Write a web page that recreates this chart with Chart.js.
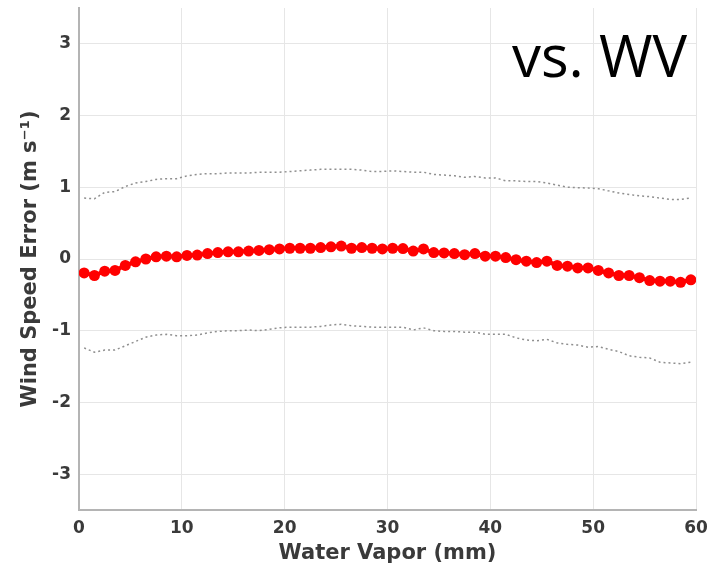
<!DOCTYPE html>
<html>
<head>
<meta charset="utf-8">
<script src="https://cdn.jsdelivr.net/npm/chart.js@4"></script>
<style>
    html, body { margin: 0; padding: 0; background: #fff; }
    #wrap { position: relative; width: 713px; height: 566px; }
    #label { position: absolute; left: 512px; top: 26px; font-family: 'Open Sans', sans-serif; font-size: 58px; color: #000; line-height: 1; }
</style>
</head>
<body>
<div id="wrap">
    <canvas id="wvChart" width="713" height="566"></canvas>
    <div id="label">vs. WV</div>
</div>
<script>
// water vapor bins (mm)
const waterVapor = [0.5, 1.5, 2.5, 3.5, 4.5, 5.5, 6.5, 7.5, 8.5, 9.5,
    10.5, 11.5, 12.5, 13.5, 14.5, 15.5, 16.5, 17.5, 18.5, 19.5,
    20.5, 21.5, 22.5, 23.5, 24.5, 25.5, 26.5, 27.5, 28.5, 29.5,
    30.5, 31.5, 32.5, 33.5, 34.5, 35.5, 36.5, 37.5, 38.5, 39.5,
    40.5, 41.5, 42.5, 43.5, 44.5, 45.5, 46.5, 47.5, 48.5, 49.5,
    50.5, 51.5, 52.5, 53.5, 54.5, 55.5, 56.5, 57.5, 58.5, 59.5]

// mean wind speed error
const meanError = [-0.195, -0.23, -0.17, -0.16, -0.09, -0.04, 0.0, 0.03, 0.04, 0.03,
    0.05, 0.055, 0.075, 0.09, 0.10, 0.10, 0.11, 0.12, 0.13, 0.14,
    0.15, 0.15, 0.15, 0.16, 0.17, 0.18, 0.15, 0.16, 0.15, 0.14,
    0.15, 0.145, 0.11, 0.14, 0.09, 0.085, 0.075, 0.06, 0.075, 0.04,
    0.04, 0.02, -0.01, -0.03, -0.05, -0.03, -0.09, -0.10, -0.125, -0.125,
    -0.16, -0.195, -0.23, -0.23, -0.26, -0.30, -0.31, -0.31, -0.325, -0.29]

// +/- std dev bounds
const upperBound = [0.85, 0.84, 0.93, 0.94, 1.01, 1.06, 1.08, 1.11, 1.12, 1.12,
    1.16, 1.18, 1.19, 1.19, 1.2, 1.2, 1.2, 1.21, 1.21, 1.21,
    1.22, 1.23, 1.24, 1.25, 1.25, 1.25, 1.25, 1.24, 1.22, 1.22,
    1.23, 1.22, 1.21, 1.21, 1.18, 1.17, 1.16, 1.14, 1.15, 1.13,
    1.13, 1.09, 1.09, 1.08, 1.08, 1.06, 1.03, 1.0, 0.995, 0.99,
    0.98, 0.95, 0.92, 0.90, 0.88, 0.87, 0.85, 0.83, 0.83, 0.85]

const lowerBound = [-1.24, -1.30, -1.27, -1.27, -1.21, -1.15, -1.09, -1.06, -1.05, -1.07,
    -1.07, -1.06, -1.03, -1.01, -1.0, -1.0, -0.99, -1.0, -0.98, -0.96,
    -0.95, -0.95, -0.95, -0.94, -0.92, -0.91, -0.93, -0.94, -0.95, -0.95,
    -0.95, -0.95, -0.99, -0.96, -1.0, -1.01, -1.01, -1.02, -1.02, -1.05,
    -1.05, -1.05, -1.10, -1.13, -1.14, -1.12, -1.17, -1.19, -1.20, -1.23,
    -1.22, -1.26, -1.29, -1.35, -1.37, -1.38, -1.44, -1.45, -1.46, -1.44]

const xTicks = [0, 10, 20, 30, 40, 50, 60]
const yTicks = [-3, -2, -1, 0, 1, 2, 3]

const toPoints = (ys) => waterVapor.map((x, i) => ({ x: x, y: ys[i] }))

const tickFont = { family: 'DejaVu Sans', weight: 'bold', size: 17 }
const titleFont = { family: 'DejaVu Sans', weight: 'bold', size: 21 }
const textColor = '#3a3a3a'
const gridColor = '#e6e6e6'
const axisColor = '#b4b4b4'

new Chart(document.getElementById('wvChart'), {
    type: 'line',
    data: {
        datasets: [
            {
                data: toPoints(upperBound),
                borderColor: '#8f8f8f',
                borderWidth: 1.5,
                borderDash: [2, 3],
                pointRadius: 0,
                tension: 0
            },
            {
                data: toPoints(lowerBound),
                borderColor: '#8f8f8f',
                borderWidth: 1.5,
                borderDash: [2, 3],
                pointRadius: 0,
                tension: 0
            },
            {
                data: toPoints(meanError),
                borderColor: '#ff0000',
                backgroundColor: '#ff0000',
                borderWidth: 4,
                pointRadius: 5.5,
                pointBorderWidth: 0,
                tension: 0
            }
        ]
    },
    options: {
        responsive: false,
        animation: false,
        layout: { padding: { top: 8, right: 17, left: 0, bottom: 0 } },
        plugins: { legend: { display: false }, tooltip: { enabled: false } },
        scales: {
            x: {
                type: 'linear',
                min: 0,
                max: 60,
                afterBuildTicks: (scale) => { scale.ticks = xTicks.map(v => ({ value: v })) },
                afterFit: (scale) => {
                    scale.height = 56
                    scale.paddingLeft = 0
                    scale.paddingRight = 0
                },
                grid: { color: gridColor, drawTicks: false },
                border: { color: axisColor, width: 2 },
                ticks: { font: tickFont, color: textColor, padding: 8, maxRotation: 0 },
                title: {
                    display: true,
                    text: 'Water Vapor (mm)',
                    font: titleFont,
                    color: textColor,
                    padding: { top: 0, bottom: 0 }
                }
            },
            y: {
                min: -3.5,
                max: 3.5,
                afterBuildTicks: (scale) => { scale.ticks = yTicks.map(v => ({ value: v })) },
                afterFit: (scale) => {
                    scale.width = 79
                    scale.paddingTop = 0
                    scale.paddingBottom = 0
                },
                grid: { color: gridColor, drawTicks: false },
                border: { color: axisColor, width: 2 },
                ticks: { font: tickFont, color: textColor, padding: 8 },
                title: {
                    display: true,
                    text: 'Wind Speed Error (m s\u207B\u00B9)',
                    font: titleFont,
                    color: textColor,
                    padding: { top: 18, bottom: 0 }
                }
            }
        }
    }
})
</script>
</body>
</html>
